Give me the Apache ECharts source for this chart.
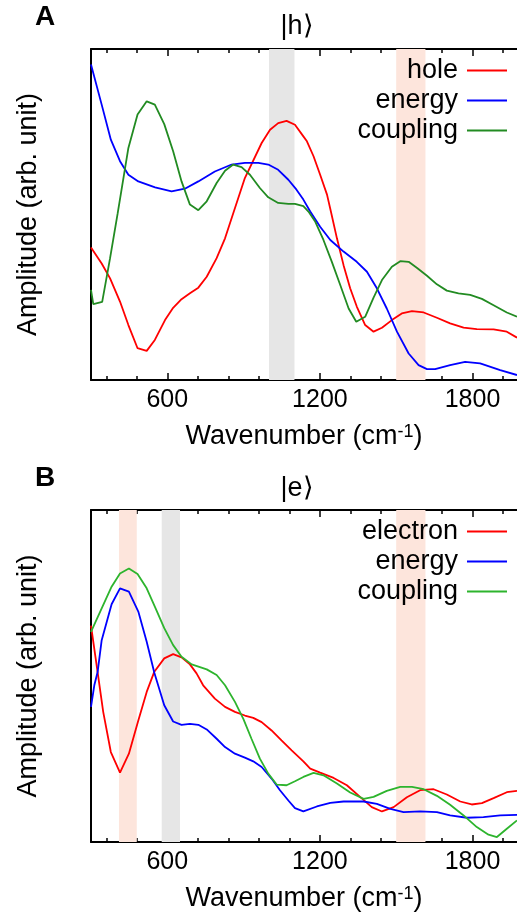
<!DOCTYPE html>
<html>
<head>
<meta charset="utf-8">
<script src="https://cdn.jsdelivr.net/npm/echarts@6/dist/echarts.min.js"></script>
<style>
  html, body { margin: 0; padding: 0; background: #fff; }
  #chart { width: 517px; height: 920px; }
</style>
</head>
<body>
<div id="chart"></div>
<script>
// tick positions (cm-1)
const xTicks = [360, 480, 600, 720, 840, 960, 1080, 1200, 1320, 1440, 1560, 1680, 1800, 1920];
const xLabels = [600, 1200, 1800];

// panel A, |h>  [wavenumber, amplitude]
const holeA = [[300,40.0],[342,35.2],[375,30.7],[414,23.7],[447,16.6],[483,9.6],[519,8.8],[551,12.1],[591,18.1],[623,21.8],[656,24.4],[689,26.2],[722,27.9],[755,31.2],[794,36.8],[827,42.8],[859,50.3],[905,61.0],[971,71.6],[1004,75.6],[1036,77.6],[1069,78.3],[1102,77.1],[1135,73.6],[1149,72.1],[1175,67.6],[1201,62.0],[1228,56.0],[1243,51.0],[1267,42.8],[1293,34.7],[1319,27.7],[1345,22.2],[1378,16.6],[1411,14.6],[1444,15.8],[1483,18.1],[1522,20.1],[1562,20.8],[1608,20.4],[1660,18.8],[1712,17.1],[1765,15.8],[1817,15.4],[1883,15.3],[1935,14.6],[1975,12.8]];
const energyA = [[300,95.3],[342,83.2],[378,72.6],[414,66.1],[447,62.0],[486,60.0],[552,58.2],[617,57.0],[669,57.8],[722,60.0],[787,63.0],[853,65.1],[905,65.6],[958,65.6],[997,65.1],[1036,63.5],[1076,60.5],[1108,57.5],[1135,54.5],[1162,50.9],[1201,46.3],[1241,42.3],[1293,38.8],[1345,35.7],[1385,32.7],[1424,27.7],[1463,21.6],[1503,14.6],[1549,8.0],[1588,4.5],[1621,3.3],[1653,3.3],[1712,4.5],[1771,5.5],[1830,5.0],[1909,3.0],[1975,1.5]];
const couplingA = [[300,27.2],[309,22.9],[344,23.6],[375,36.8],[405,50.4],[447,70.1],[483,80.2],[519,84.2],[551,83.2],[588,77.3],[623,69.1],[656,60.0],[689,53.0],[722,51.3],[755,54.0],[794,59.5],[827,63.2],[859,65.1],[892,64.3],[925,62.0],[964,58.0],[997,55.2],[1036,53.5],[1076,53.2],[1102,53.2],[1135,52.5],[1155,50.9],[1182,47.8],[1214,42.3],[1247,35.7],[1280,28.7],[1313,21.6],[1343,17.6],[1378,19.1],[1411,24.9],[1444,30.2],[1483,34.2],[1516,35.9],[1549,35.7],[1581,33.9],[1621,31.5],[1660,28.9],[1699,27.0],[1745,26.2],[1791,25.7],[1837,24.5],[1883,22.6],[1935,20.4],[1975,19.1]];

// panel B, |e>
const electronB = [[300,65.2],[326,51.2],[348,39.2],[378,27.1],[414,20.9],[449,26.6],[486,36.6],[519,45.2],[549,51.3],[588,55.3],[623,56.6],[656,55.6],[689,53.5],[715,50.8],[741,47.2],[787,43.2],[827,40.7],[866,39.2],[905,38.1],[938,37.4],[971,36.1],[1010,33.6],[1049,30.6],[1089,27.6],[1135,24.3],[1162,22.1],[1201,20.9],[1254,19.3],[1306,17.1],[1359,13.5],[1404,10.5],[1444,9.2],[1490,10.5],[1542,13.5],[1594,15.6],[1647,15.9],[1699,14.3],[1752,12.2],[1797,11.3],[1837,11.7],[1883,13.2],[1935,15.0],[1975,15.4]];
const energyB = [[300,40.7],[313,47.2],[326,51.2],[342,60.8],[381,71.6],[414,76.4],[449,75.4],[486,69.4],[519,60.3],[549,51.0],[588,41.2],[623,36.3],[656,35.3],[689,35.6],[722,35.3],[755,33.9],[794,31.1],[827,28.6],[866,26.6],[905,25.4],[938,24.3],[971,22.6],[1010,19.1],[1043,15.6],[1076,12.5],[1102,10.2],[1135,9.2],[1188,10.7],[1241,11.8],[1293,12.2],[1372,12.2],[1424,11.5],[1477,10.0],[1529,9.0],[1594,9.2],[1660,9.0],[1712,8.0],[1778,7.3],[1843,7.5],[1909,8.0],[1975,8.2]];
const couplingB = [[300,63.3],[342,70.4],[381,76.9],[414,80.9],[449,82.4],[483,80.7],[519,76.4],[551,70.9],[588,64.4],[623,59.3],[656,55.8],[696,53.5],[755,52.0],[794,50.3],[827,47.2],[866,42.2],[899,37.1],[931,31.1],[964,25.1],[997,20.6],[1030,17.3],[1069,17.1],[1102,18.3],[1135,19.6],[1175,20.8],[1214,20.1],[1267,17.6],[1319,14.9],[1372,13.0],[1411,13.6],[1463,15.4],[1516,16.6],[1562,16.6],[1608,15.9],[1660,13.9],[1712,11.2],[1765,8.0],[1817,4.5],[1863,2.2],[1896,1.5],[1935,4.0],[1975,6.5]];

// shaded wavenumber ranges
const grayBandsA = [[1000, 1100]];
const pinkBandsA = [[1500, 1615]];
const grayBandsB = [[578, 650]];
const pinkBandsB = [[410, 480], [1500, 1615]];

const FONT = 'Liberation Sans, Arial, sans-serif';
const GRAY = '#e6e6e6';
const PINK = '#fde5dc';

function bandData(bands, color) {
    return bands.map(b => [{ xAxis: b[0], itemStyle: { color: color } }, { xAxis: b[1] }]);
}

function xAxes(g) {
    let base = {
        type: 'value', gridIndex: g, min: 300, max: 1975,
        splitLine: { show: false }
    };
    let line = { show: true, onZero: false, lineStyle: { color: '#000', width: 2 } };
    return [
        Object.assign({}, base, {
            position: 'bottom',
            axisLine: line,
            axisTick: { inside: true, length: 4, customValues: xTicks, lineStyle: { color: '#000', width: 1.5 } },
            axisLabel: {
                customValues: xLabels, fontSize: 25, fontFamily: FONT, color: '#000', margin: 8,
                formatter: v => String(v)
            },
            name: 'Wavenumber (cm{sup|-1})',
            nameLocation: 'middle',
            nameGap: 43,
            nameTextStyle: {
                fontSize: 27, fontFamily: FONT, color: '#000',
                rich: { sup: { fontSize: 18, fontFamily: FONT, color: '#000', verticalAlign: 'top', padding: [0, 0, 4, 0] } }
            }
        }),
        Object.assign({}, base, {
            position: 'top',
            axisLine: line,
            axisTick: { inside: true, length: 4, customValues: xTicks, lineStyle: { color: '#000', width: 1.5 } },
            axisLabel: { show: false }
        }),
        Object.assign({}, base, {
            position: 'bottom',
            axisLine: { show: false, onZero: false },
            axisTick: { inside: true, length: 7, customValues: xLabels, lineStyle: { color: '#000', width: 1.5 } },
            axisLabel: { show: false }
        }),
        Object.assign({}, base, {
            position: 'top',
            axisLine: { show: false, onZero: false },
            axisTick: { inside: true, length: 7, customValues: xLabels, lineStyle: { color: '#000', width: 1.5 } },
            axisLabel: { show: false }
        })
    ];
}

function yAxis(g) {
    return {
        type: 'value', gridIndex: g, min: 0, max: 100,
        axisLine: { show: true, onZero: false, lineStyle: { color: '#000', width: 2 } },
        axisTick: { show: false },
        axisLabel: { show: false },
        splitLine: { show: false },
        name: 'Amplitude (arb. unit)',
        nameLocation: 'middle',
        nameGap: 49,
        nameTextStyle: { fontSize: 27, fontFamily: FONT, color: '#000' }
    };
}

function lineSeries(name, data, color, xi, yi) {
    return {
        name: name, type: 'line', data: data,
        xAxisIndex: xi, yAxisIndex: yi,
        symbol: 'none', smooth: false, z: 3,
        lineStyle: { color: color, width: 1.8 },
        itemStyle: { color: color }
    };
}

function legend(top, items) {
    return {
        top: top, right: 10, orient: 'vertical', align: 'right',
        padding: 0, itemGap: 3, itemWidth: 40, itemHeight: 2,
        icon: 'rect',
        selectedMode: false,
        textStyle: { fontSize: 27, fontFamily: FONT, color: '#000', padding: [0, 4, 0, 0] },
        data: items.map(it => ({
            name: it[0],
            icon: 'rect',
            itemStyle: { color: it[1] }
        }))
    };
}

const RED = '#ff0000', BLUE = '#0000ff', GREEN_A = '#228b22', GREEN_B = '#2db42d';

let chart = echarts.init(document.getElementById('chart'));

let option = {
    backgroundColor: '#fff',
    animation: false,
    grid: [
        { left: 91, top: 49, width: 426, height: 331, containLabel: false, outerBoundsMode: 'none' },
        { left: 91, top: 510, width: 426, height: 332, containLabel: false, outerBoundsMode: 'none' }
    ],
    xAxis: xAxes(0).concat(xAxes(1)),
    yAxis: [yAxis(0), yAxis(1)],
    legend: [
        legend(57, [['hole', RED], ['energy', BLUE], ['coupling', GREEN_A]]),
        legend(518, [['electron', RED], ['energy', BLUE], ['coupling', GREEN_B]])
    ],
    graphic: [
        { type: 'text', x: 45, y: 17, style: { text: 'A', fontSize: 28, fontWeight: 'bold', fontFamily: FONT, fill: '#000', align: 'center', verticalAlign: 'middle' } },
        { type: 'text', x: 297, y: 27, style: { text: '|h\u27E9', fontSize: 27, fontFamily: FONT, fill: '#000', align: 'center', verticalAlign: 'middle' } },
        { type: 'text', x: 45, y: 478, style: { text: 'B', fontSize: 28, fontWeight: 'bold', fontFamily: FONT, fill: '#000', align: 'center', verticalAlign: 'middle' } },
        { type: 'text', x: 297, y: 489, style: { text: '|e\u27E9', fontSize: 27, fontFamily: FONT, fill: '#000', align: 'center', verticalAlign: 'middle' } }
    ],
    series: [
        {
            name: 'bandsA', type: 'line', data: [], xAxisIndex: 0, yAxisIndex: 0, z: 1,
            markArea: { silent: true, data: bandData(grayBandsA, GRAY).concat(bandData(pinkBandsA, PINK)) }
        },
        lineSeries('hole', holeA, RED, 0, 0),
        lineSeries('energy', energyA, BLUE, 0, 0),
        lineSeries('coupling', couplingA, GREEN_A, 0, 0),
        {
            name: 'bandsB', type: 'line', data: [], xAxisIndex: 4, yAxisIndex: 1, z: 1,
            markArea: { silent: true, data: bandData(grayBandsB, GRAY).concat(bandData(pinkBandsB, PINK)) }
        },
        lineSeries('electron', electronB, RED, 4, 1),
        lineSeries('energy', energyB, BLUE, 4, 1),
        lineSeries('coupling', couplingB, GREEN_B, 4, 1)
    ]
};

chart.setOption(option);
</script>
</body>
</html>
